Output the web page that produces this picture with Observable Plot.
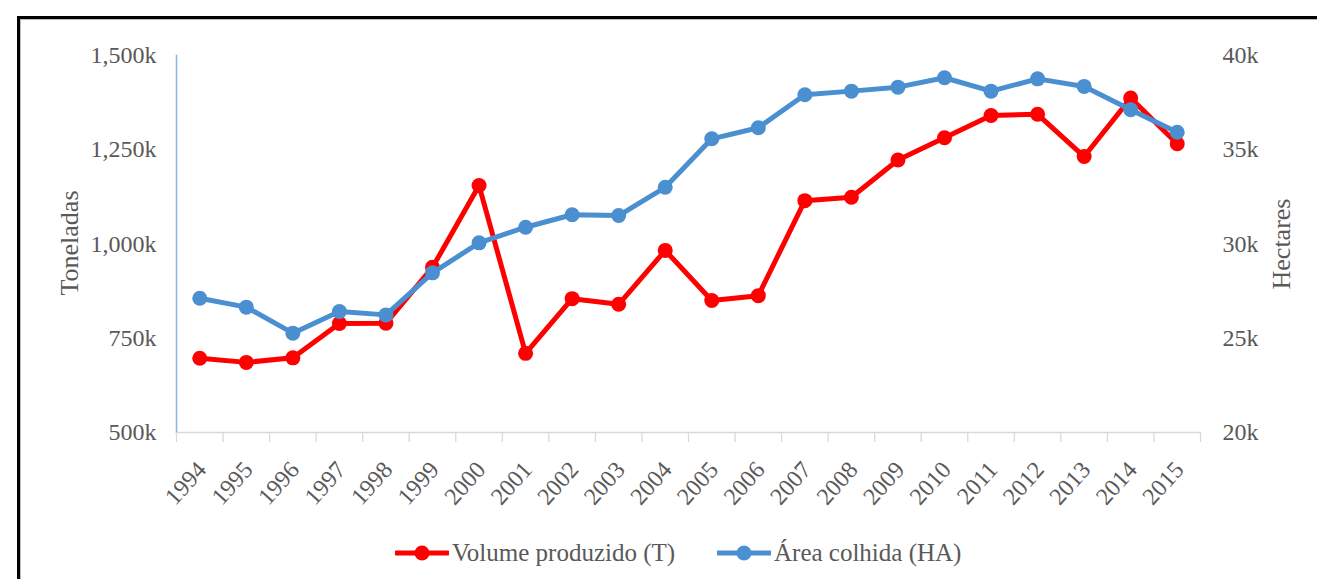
<!DOCTYPE html>
<html>
<head>
<meta charset="utf-8">
<script src="https://cdn.jsdelivr.net/npm/d3@7"></script>
<script src="https://cdn.jsdelivr.net/npm/@observablehq/plot@0.6"></script>
<style>
  html, body { margin: 0; padding: 0; background: #fff; }
  #wrap { position: relative; width: 1317px; height: 579px; overflow: hidden; background: #fff; }
  #frame { position: absolute; left: 17px; top: 16px; width: 1400px; height: 700px;
           border-left: 3px solid #000; border-top: 3px solid #000; box-shadow: 1px 1px 0 #bbb inset; }
  #chart { position: absolute; left: 0; top: 0; }
  #legend { position: absolute; left: 0; top: 536px; width: 1317px; height: 34px;
            font-family: "Liberation Serif", "Times New Roman", serif; font-size: 25px; color: #595959; }
  .item { position: absolute; top: 0; display: flex; align-items: center; height: 34px; }
  .item svg { margin-right: 3px; }
</style>
</head>
<body>
<div id="wrap">
  <div id="frame"></div>
  <div id="chart"></div>
  <div id="legend"></div>
</div>
<script>
// ---- data ----
const years = ["1994","1995","1996","1997","1998","1999","2000","2001","2002","2003","2004",
               "2005","2006","2007","2008","2009","2010","2011","2012","2013","2014","2015"];
// Volume produzido (thousand tonnes)
const volume = [697, 686, 698, 789, 790, 938, 1155, 710, 855, 840, 983,
                850, 863, 1115, 1124, 1223, 1282, 1341, 1344, 1232, 1387, 1266];
// Área colhida (thousand hectares)
const area = [27.12, 26.65, 25.27, 26.42, 26.24, 28.47, 30.06, 30.89, 31.55, 31.51, 33.01,
              35.58, 36.17, 37.92, 38.11, 38.32, 38.82, 38.11, 38.76, 38.36, 37.12, 35.93];
const leftTicks = [500, 750, 1000, 1250, 1500];
const rightTicks = [20, 25, 30, 35, 40];
const seriesNames = ["Volume produzido (T)", "Área colhida (HA)"];
const colors = ["#ff0000", "#4a8fd0"];

// ---- dual axis mapping: hectares (k) -> tonnes (k) scale ----
const ha2t = d3.scaleLinear().domain([20, 40]).range([500, 1500]);

const volData = years.map((y, i) => ({year: y, v: volume[i]}));
const areaData = years.map((y, i) => ({year: y, v: ha2t(area[i])}));

const W = 1317, H = 520;
const mL = 176, mR = W - 1200, mT = 55, mB = H - 432;
const step = (W - mL - mR) / years.length;
const font = '"Liberation Serif", "Times New Roman", serif';

const chart = Plot.plot({
  width: W, height: H,
  marginLeft: mL, marginRight: mR, marginTop: mT, marginBottom: mB,
  style: {fontFamily: font, fontSize: "24px", color: "#595959", background: "transparent"},
  x: {type: "point", domain: years, padding: 0.5, round: false, label: null},
  y: {domain: [500, 1500], label: null},
  marks: [
    Plot.frame({anchor: "bottom", stroke: "#d9d9d9", strokeWidth: 1.3}),
    Plot.frame({anchor: "left", stroke: "#8db4e2", strokeWidth: 1.5}),
    // category boundary ticks
    Plot.axisX({tickSize: 10, text: null, stroke: "#d9d9d9", strokeWidth: 1.3, dx: -step / 2, strokeOpacity: 1}),
    Plot.axisX({ticks: [years[years.length - 1]], tickSize: 10, text: null, stroke: "#d9d9d9", strokeWidth: 1.3, dx: step / 2, strokeOpacity: 1}),
    Plot.axisX({tickSize: 0, tickRotate: -48, tickPadding: 33, dx: 2, fill: "#595959", fontSize: 24, label: null}),
    Plot.axisY({anchor: "left", ticks: leftTicks, tickSize: 0, tickPadding: 20,
                tickFormat: d => d3.format(",")(d) + "k", fill: "#595959", fontSize: 24, label: null}),
    Plot.axisY({anchor: "right", ticks: rightTicks.map(t => ha2t(t)), tickSize: 0, tickPadding: 22,
                tickFormat: d => Math.round(ha2t.invert(d)) + "k", fill: "#595959", fontSize: 24, label: null}),
    Plot.text(["Toneladas"], {frameAnchor: "left", textAnchor: "middle", dx: 69 - mL, dy: -1, rotate: -90, fill: "#595959", fontSize: 26}),
    Plot.text(["Hectares"], {frameAnchor: "right", textAnchor: "middle", dx: 1281 - 1200, dy: 0, rotate: -90, fill: "#595959", fontSize: 26}),
    Plot.line(volData, {x: "year", y: "v", stroke: colors[0], strokeWidth: 5}),
    Plot.dot(volData, {x: "year", y: "v", r: 7.5, fill: colors[0]}),
    Plot.line(areaData, {x: "year", y: "v", stroke: colors[1], strokeWidth: 5}),
    Plot.dot(areaData, {x: "year", y: "v", r: 7.5, fill: colors[1]})
  ]
});
document.getElementById("chart").appendChild(chart);

// ---- legend ----
const legend = document.getElementById("legend");
const lefts = [395, 717];
seriesNames.forEach((name, i) => {
  const it = document.createElement("div");
  it.className = "item";
  it.style.left = lefts[i] + "px";
  it.innerHTML = `<svg width="54" height="20"><line x1="1" y1="10" x2="53" y2="10" stroke="${colors[i]}" stroke-width="5" stroke-linecap="round"/><circle cx="27" cy="10" r="7.5" fill="${colors[i]}"/></svg><span>${name}</span>`;
  legend.appendChild(it);
});
</script>
</body>
</html>
